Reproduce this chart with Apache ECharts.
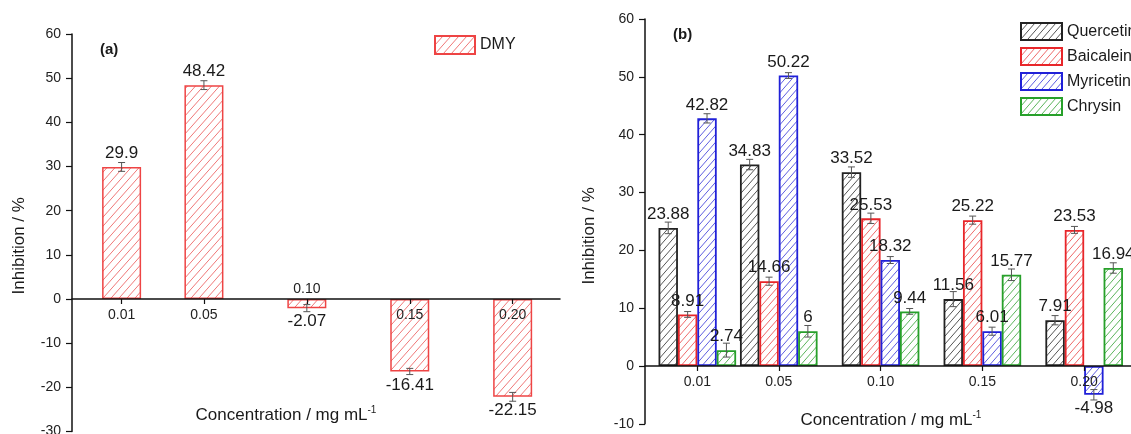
<!DOCTYPE html>
<html>
<head>
<meta charset="utf-8">
<script src="https://cdn.jsdelivr.net/npm/echarts/dist/echarts.min.js"></script>
<style>
  html, body { margin: 0; padding: 0; background: #ffffff; }
  #chart { width: 1131px; height: 434px; }
</style>
</head>
<body>
<div id="chart"></div>
<script>
// ---------- data ----------
const concentrations = [0.01, 0.05, 0.10, 0.15, 0.20];
const concentrationLabels = ['0.01', '0.05', '0.10', '0.15', '0.20'];

// panel (a)
const dmy = [29.9, 48.42, -2.07, -16.41, -22.15];
const dmyErr = [1.0, 1.0, 0.8, 0.7, 1.0];

// panel (b)
const seriesNamesB = ['Quercetin', 'Baicalein', 'Myricetin', 'Chrysin'];
const quercetin = [23.88, 34.83, 33.52, 11.56, 7.91];
const quercetinErr = [1.0, 0.9, 0.9, 1.3, 0.8];
const baicalein = [8.91, 14.66, 25.53, 25.22, 23.53];
const baicaleinErr = [0.5, 0.7, 0.9, 0.7, 0.6];
const myricetin = [42.82, 50.22, 18.32, 6.01, -4.98];
const myricetinErr = [0.8, 0.5, 0.6, 0.7, 0.9];
const chrysin = [2.74, 6, 9.44, 15.77, 16.94];
const chrysinErr = [1.2, 1.0, 0.5, 1.0, 0.9];

// axis ranges
const yRangeA = [-30, 60];
const yRangeB = [-10, 60];
const xRangeA = [-0.0141, 0.223];
const xRangeB = [-0.0157, 0.223];

// ---------- layout & styles ----------
const CANVAS_H = 434;
const gridA = { left: 72, top: 34, width: 488, bottom: 2.5 };
const gridB = { left: 645, top: 19, right: 0, bottom: 10.2 };
const FONT = '"Liberation Sans", Arial, sans-serif';
const AXIS_COLOR = '#111';
const TEXT_COLOR = '#1a1a1a';
const BAR_W_A = 39;
const BAR_W_B = 19.4;

// shift of a bottom x axis so that it sits on y = 0
function zeroOffset(grid, yr) {
  const h = CANVAS_H - grid.top - grid.bottom;
  return -((0 - yr[0]) / (yr[1] - yr[0])) * h;
}

function hatch(lineColor, w, h) {
  const c = document.createElement('canvas');
  c.width = w; c.height = h;
  const ctx = c.getContext('2d');
  ctx.fillStyle = '#ffffff';
  ctx.fillRect(0, 0, w, h);
  ctx.strokeStyle = lineColor;
  ctx.lineWidth = 1;
  ctx.beginPath();
  ctx.moveTo(0, h); ctx.lineTo(w, 0);
  ctx.moveTo(-w, h); ctx.lineTo(0, 0);
  ctx.moveTo(w, h); ctx.lineTo(2 * w, 0);
  ctx.stroke();
  return { image: c, repeat: 'repeat' };
}

const stylesB = [
  { border: '#222222', hatch: '#555555' },
  { border: '#e8262a', hatch: '#ee6a6a' },
  { border: '#2020d8', hatch: '#5e5ee0' },
  { border: '#27a02a', hatch: '#5cb45c' }
];

function labelFor(v) {
  for (let i = 0; i < concentrations.length; i++) {
    if (Math.abs(concentrations[i] - v) < 1e-6) return concentrationLabels[i];
  }
  return '';
}

function barData(vals) {
  return concentrations.map((c, i) => ({
    value: [c, vals[i]],
    label: { position: vals[i] < 0 ? 'bottom' : 'top' }
  }));
}

function errData(vals, errs) {
  return concentrations.map((c, i) => [c, vals[i], errs[i]]);
}

function errSeries(name, xIdx, yIdx, vals, errs, offset) {
  return {
    type: 'custom',
    name: name + '_err',
    xAxisIndex: xIdx,
    yAxisIndex: yIdx,
    z: 5,
    silent: true,
    data: errData(vals, errs),
    renderItem: function (params, api) {
      const x = api.value(0), y = api.value(1), e = api.value(2);
      const cx = api.coord([x, y])[0] + offset;
      const yt = api.coord([x, y + e])[1];
      const yb = api.coord([x, y - e])[1];
      const hw = 3.5;
      const st = { stroke: '#555', lineWidth: 1 };
      return {
        type: 'group',
        children: [
          { type: 'line', shape: { x1: cx, y1: yt, x2: cx, y2: yb }, style: st },
          { type: 'line', shape: { x1: cx - hw, y1: yt, x2: cx + hw, y2: yt }, style: st },
          { type: 'line', shape: { x1: cx - hw, y1: yb, x2: cx + hw, y2: yb }, style: st }
        ]
      };
    }
  };
}

const valueLabel = {
  show: true,
  fontFamily: FONT,
  fontSize: 17,
  color: TEXT_COLOR,
  distance: 5,
  formatter: p => String(p.value[1])
};

const xName = 'Concentration / mg mL{sup|-1}';
const xNameStyle = {
  fontFamily: FONT, fontSize: 17, color: TEXT_COLOR, lineHeight: 20,
  rich: { sup: { fontFamily: FONT, fontSize: 10, color: TEXT_COLOR, verticalAlign: 'top', lineHeight: 20 } }
};

function xAxisCommon(gridIndex, xr, off) {
  return {
    gridIndex: gridIndex,
    type: 'value',
    min: xr[0],
    max: xr[1],
    interval: 0.05,
    position: 'bottom',
    offset: off,
    z: 10,
    axisLine: { show: true, onZero: false, lineStyle: { color: AXIS_COLOR, width: 1.5 } },
    axisTick: { show: true, length: 5, customValues: concentrations, lineStyle: { color: AXIS_COLOR, width: 1.2 } },
    axisLabel: { fontFamily: FONT, fontSize: 14, color: '#222', margin: 9, formatter: labelFor },
    splitLine: { show: false }
  };
}

function yAxisCommon(gridIndex, yr, gap, pad) {
  return {
    gridIndex: gridIndex,
    type: 'value',
    min: yr[0],
    max: yr[1],
    interval: 10,
    axisLine: { show: true, onZero: false, lineStyle: { color: AXIS_COLOR, width: 1.5 } },
    axisTick: { show: true, length: 6, lineStyle: { color: AXIS_COLOR, width: 1.2 } },
    axisLabel: { fontFamily: FONT, fontSize: 14, color: '#222', margin: 11 },
    splitLine: { show: false },
    name: 'Inhibition / %',
    nameLocation: 'middle',
    nameRotate: 90,
    nameGap: gap,
    nameTextStyle: { fontFamily: FONT, fontSize: 17, color: TEXT_COLOR, padding: pad }
  };
}

const offA = zeroOffset(gridA, yRangeA);
const offB = zeroOffset(gridB, yRangeB);

// panel (a) axes
const xA = xAxisCommon(0, xRangeA, offA);
xA.axisLabel.customValues = concentrations.filter(c => c !== 0.10);
xA.name = xName;
xA.nameLocation = 'middle';
xA.nameGap = 106;
xA.nameTextStyle = Object.assign({}, xNameStyle, { padding: [0, 60, 0, 0] });

const xA2 = xAxisCommon(0, xRangeA, offA);
xA2.axisTick = { show: false };
xA2.axisLine.show = false;
xA2.axisLabel.customValues = [0.10];
xA2.axisLabel.inside = true;
xA2.axisLabel.margin = 3;

const xB = xAxisCommon(1, xRangeB, offB);
xB.axisLabel.customValues = concentrations;
xB.name = xName;
xB.nameLocation = 'middle';
xB.nameGap = 44;
xB.nameTextStyle = Object.assign({}, xNameStyle, { padding: [0, 0, 0, 6] });

const yA = yAxisCommon(0, yRangeA, 44, [0, 26, 0, 0]);
const yB = yAxisCommon(1, yRangeB, 47, [0, 29, 0, 0]);

const series = [];

series.push({
  type: 'bar',
  name: 'DMY',
  xAxisIndex: 0,
  yAxisIndex: 0,
  barWidth: BAR_W_A,
  data: barData(dmy),
  itemStyle: { color: hatch('#ef7878', 8, 9), borderColor: '#ee4444', borderWidth: 1.5 },
  label: valueLabel,
  emphasis: { disabled: true }
});
series.push(errSeries('DMY', 0, 0, dmy, dmyErr, 0));

const valsB = [quercetin, baicalein, myricetin, chrysin];
const errsB = [quercetinErr, baicaleinErr, myricetinErr, chrysinErr];
valsB.forEach((vals, k) => {
  series.push({
    type: 'bar',
    name: seriesNamesB[k],
    xAxisIndex: 2,
    yAxisIndex: 1,
    barWidth: BAR_W_B,
    barGap: '0%',
    data: barData(vals),
    itemStyle: { color: hatch(stylesB[k].hatch, 7, 8), borderColor: stylesB[k].border, borderWidth: 1.8 },
    label: valueLabel,
    emphasis: { disabled: true }
  });
});
valsB.forEach((vals, k) => {
  series.push(errSeries(seriesNamesB[k], 2, 1, vals, errsB[k], (k - 1.5) * BAR_W_B));
});

window.addEventListener('load', function () {
  const chart = echarts.init(document.getElementById('chart'), null, { renderer: 'canvas' });
  chart.setOption({
    backgroundColor: '#ffffff',
    animation: false,
    title: [
      { text: '(a)', left: 95, top: 37, textStyle: { fontFamily: FONT, fontSize: 15, fontWeight: 'bold', color: TEXT_COLOR } },
      { text: '(b)', left: 668, top: 22, textStyle: { fontFamily: FONT, fontSize: 15, fontWeight: 'bold', color: TEXT_COLOR } }
    ],
    legend: [
      {
        data: ['DMY'],
        left: 429, top: 30,
        itemWidth: 40, itemHeight: 18,
        icon: 'rect',
        textStyle: { fontFamily: FONT, fontSize: 16, color: TEXT_COLOR },
        selectedMode: false
      },
      {
        data: seriesNamesB,
        orient: 'vertical',
        left: 1015, top: 17,
        itemWidth: 41, itemHeight: 17, itemGap: 6,
        icon: 'rect',
        textStyle: { fontFamily: FONT, fontSize: 16, color: TEXT_COLOR },
        selectedMode: false
      }
    ],
    grid: [
      Object.assign({ outerBoundsMode: 'none', containLabel: false }, gridA),
      Object.assign({ outerBoundsMode: 'none', containLabel: false }, gridB)
    ],
    xAxis: [xA, xA2, xB],
    yAxis: [yA, yB],
    series: series
  });
});
</script>
</body>
</html>
